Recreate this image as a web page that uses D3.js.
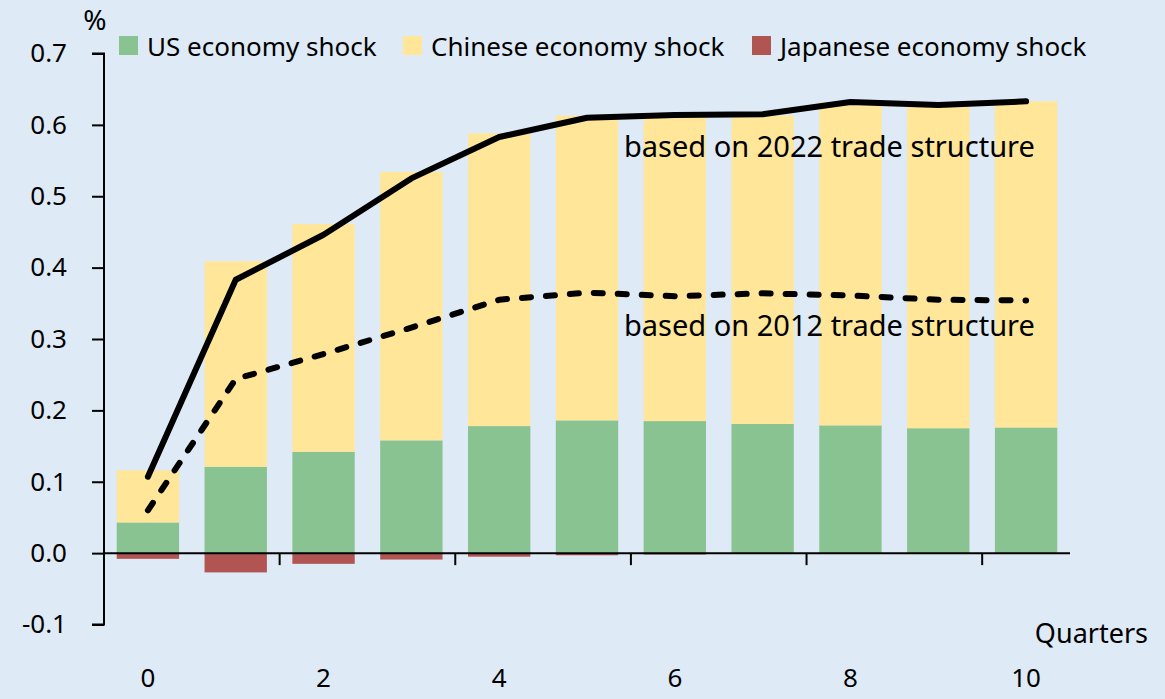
<!DOCTYPE html>
<html>
<head>
<meta charset="utf-8">
<script src="https://cdn.jsdelivr.net/npm/d3@7"></script>
<style>
  html, body { margin: 0; padding: 0; background: #DEEAF6; }
  svg { display: block; font-family: "Noto Sans", sans-serif; }
</style>
</head>
<body>
<svg id="chart" width="1165" height="699"></svg>
<script>
// Quarters after the shock
const quarters = [0, 1, 2, 3, 4, 5, 6, 7, 8, 9, 10];

// Contribution of each economy's shock (%)
const usShock      = [0.043, 0.121, 0.142, 0.158, 0.178, 0.186, 0.185, 0.181, 0.179, 0.175, 0.176];
const chineseShock = [0.073, 0.288, 0.319, 0.376, 0.410, 0.427, 0.427, 0.432, 0.453, 0.452, 0.457];
const japanShock   = [-0.008, -0.027, -0.015, -0.009, -0.005, -0.003, -0.002, -0.001, 0, 0, 0];

// Total effect under each trade structure (%)
const total2022 = [0.107, 0.383, 0.446, 0.525, 0.583, 0.610, 0.614, 0.615, 0.632, 0.628, 0.633];
const total2012 = [0.060, 0.244, 0.279, 0.316, 0.355, 0.365, 0.360, 0.364, 0.361, 0.355, 0.354];

const yTicks = [-0.1, 0.0, 0.1, 0.2, 0.3, 0.4, 0.5, 0.6, 0.7];
const xLabelQuarters = [0, 2, 4, 6, 8, 10];
const legendNames = ["US economy shock", "Chinese economy shock", "Japanese economy shock"];
const colors = ["#88C391", "#FFE699", "#B05552"];

const svg = d3.select("#chart");
const fontSize = 26;

const x = d3.scaleBand()
  .domain(quarters)
  .range([104, 1070])
  .paddingInner(0.29)
  .paddingOuter(0.145);

const y = d3.scaleLinear()
  .domain([-0.1, 0.7])
  .range([624.5, 53.5]);

// Stacked bars: US at the base, Chinese on top, Japanese below zero
const rows = quarters.map((q, i) => ({ q, us: usShock[i], cn: chineseShock[i], jp: japanShock[i] }));

const bars = svg.append("g");
bars.selectAll("rect.us").data(rows).join("rect")
  .attr("x", d => x(d.q)).attr("width", x.bandwidth())
  .attr("y", d => y(d.us)).attr("height", d => y(0) - y(d.us))
  .attr("fill", colors[0]);
bars.selectAll("rect.cn").data(rows).join("rect")
  .attr("x", d => x(d.q)).attr("width", x.bandwidth())
  .attr("y", d => y(d.us + d.cn)).attr("height", d => y(d.us) - y(d.us + d.cn))
  .attr("fill", colors[1]);
bars.selectAll("rect.jp").data(rows.filter(d => d.jp < 0)).join("rect")
  .attr("x", d => x(d.q)).attr("width", x.bandwidth())
  .attr("y", y(0)).attr("height", d => y(d.jp) - y(0))
  .attr("fill", colors[2]);

// Y axis (plain hyphen for negatives)
const fmt = d3.format(".1f");
const yAxis = d3.axisLeft(y)
  .tickValues(yTicks)
  .tickSize(12)
  .tickPadding(25)
  .tickFormat(d => fmt(d).replace("\u2212", "-"));
const yg = svg.append("g").attr("transform", "translate(104,0)").call(yAxis);
yg.select(".domain").attr("stroke", "#000").attr("stroke-width", 2).attr("d", `M-12,${y(0.7)}H0V${y(-0.1)}H-12`);
yg.selectAll(".tick line").attr("stroke", "#000").attr("stroke-width", 2);
yg.selectAll(".tick text").attr("font-size", fontSize).attr("fill", "#000")
  .attr("font-family", "Noto Sans, sans-serif");

// X axis along zero: tick marks sit between every second pair of quarters
const xg = svg.append("g");
xg.append("line")
  .attr("x1", 103).attr("x2", 1070)
  .attr("y1", y(0)).attr("y2", y(0))
  .attr("stroke", "#000").attr("stroke-width", 2);
const boundaries = [1, 3, 5, 7, 9].map(q => x(q) + x.bandwidth() + (x.step() - x.bandwidth()) / 2);
xg.selectAll("line.tk").data(boundaries).join("line")
  .attr("x1", d => d).attr("x2", d => d)
  .attr("y1", y(0)).attr("y2", y(0) + 12)
  .attr("stroke", "#000").attr("stroke-width", 2);
xg.selectAll("text").data(xLabelQuarters).join("text")
  .attr("x", d => x(d) + x.bandwidth() / 2)
  .attr("y", 687)
  .attr("text-anchor", "middle")
  .attr("font-size", fontSize)
  .text(d => d);

// Lines
const line = d3.line()
  .x((d, i) => x(quarters[i]) + x.bandwidth() / 2)
  .y(d => y(d));
svg.append("path").datum(total2012)
  .attr("d", line).attr("fill", "none")
  .attr("stroke", "#000").attr("stroke-width", 6)
  .attr("stroke-dasharray", "9,15").attr("stroke-linecap", "round")
  .attr("stroke-linejoin", "round");
svg.append("path").datum(total2022)
  .attr("d", line).attr("fill", "none")
  .attr("stroke", "#000").attr("stroke-width", 6)
  .attr("stroke-linecap", "round").attr("stroke-linejoin", "round");

// Line labels
svg.append("text").attr("x", 624).attr("y", 157).attr("font-size", 29)
  .text("based on 2022 trade structure");
svg.append("text").attr("x", 624).attr("y", 336).attr("font-size", 29)
  .text("based on 2012 trade structure");

// Unit and axis title
svg.append("text").attr("x", 95).attr("y", 30).attr("text-anchor", "middle")
  .attr("font-size", 28).text("%");
svg.append("text").attr("x", 1148).attr("y", 643).attr("text-anchor", "end")
  .attr("font-size", 27).text("Quarters");

// Legend
const legendX = [119, 403, 752];
const lg = svg.append("g");
legendNames.forEach((name, i) => {
  lg.append("rect").attr("x", legendX[i]).attr("y", 36).attr("width", 19).attr("height", 19)
    .attr("fill", colors[i]);
  lg.append("text").attr("x", legendX[i] + 28).attr("y", 56)
    .attr("font-size", fontSize).text(name);
});
</script>
</body>
</html>
